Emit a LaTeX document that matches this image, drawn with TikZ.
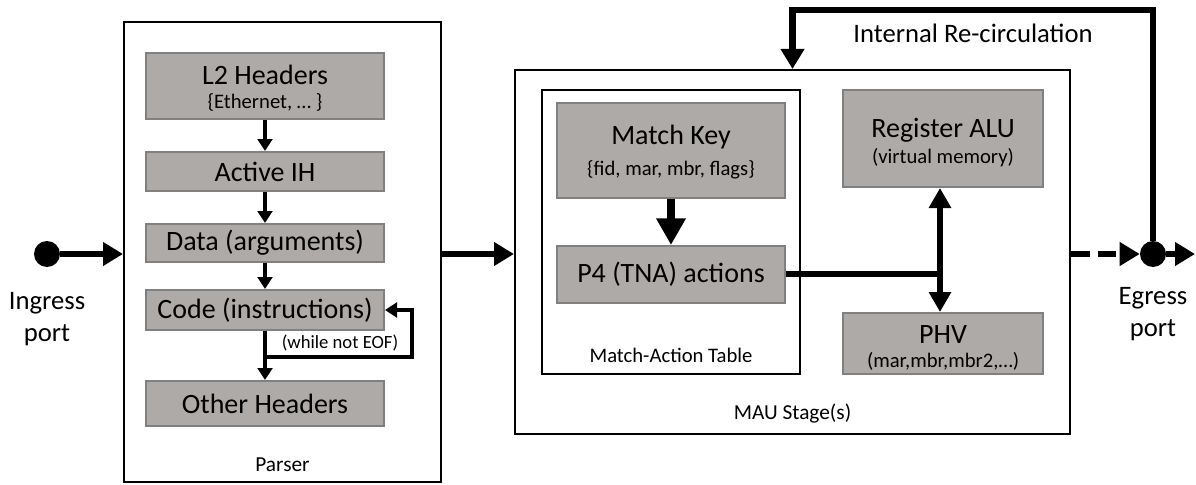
\documentclass[tikz,border=0pt]{standalone}
\usepackage{fontspec}
\setmainfont{Carlito}
\usetikzlibrary{arrows.meta}
\definecolor{blkFill}{RGB}{174,170,167}
\definecolor{blkLine}{RGB}{128,128,128}

\begin{document}
\begin{tikzpicture}[x=0.75pt,y=-0.75pt,
    outerBk/.style={rectangle,draw=black,line width=1.5pt,inner sep=0pt},
    grayBk/.style={rectangle,draw=blkLine,fill=blkFill,line width=1.5pt,inner sep=0pt},
    mainTxt/.style={font=\fontsize{21}{24}\selectfont,align=center,inner sep=0pt},
    portTxt/.style={font=\fontsize{20}{24}\selectfont,align=center,inner sep=0pt},
    subTxt/.style={font=\fontsize{15.5}{18}\selectfont,inner sep=0pt},
    smTxt/.style={font=\fontsize{16}{18}\selectfont,inner sep=0pt},
    thinArr/.style={-{Triangle[length=9pt,width=11pt]},line width=3.2pt},
    bigArr/.style={-{Triangle[length=15pt,width=17pt]},line width=4.8pt},
    bigLine/.style={line width=4.8pt},
    portDot/.style={circle,fill=black,minimum size=19.5pt,inner sep=0pt},
]
\useasboundingbox (0,0) rectangle (1196,485);
% containers
\node[outerBk,minimum width=237.75pt,minimum height=345pt] (parser) at (282.5,252) {};
\node[outerBk,minimum width=416.25pt,minimum height=273pt] (mau) at (792.5,252) {};
\node[outerBk,minimum width=193.5pt,minimum height=213pt] (mat) at (671,232) {};
\node[smTxt] (parserT) at (282.5,465) {Parser};
\node[smTxt] (mauT) at (792.5,414) {MAU Stage(s)};
\node[subTxt] (matT) at (671,355) {Match-Action Table};
% parser blocks
\node[grayBk,minimum width=178.5pt,minimum height=49.5pt] (l2) at (265,86) {};
\node[mainTxt] (l2T) at (265,75) {L2 Headers};
\node[subTxt] (l2S) at (265,102) {\{Ethernet, … \}};
\node[grayBk,minimum width=178.5pt,minimum height=29.25pt] (act) at (265,171.5) {};
\node[mainTxt] (actT) at (act) {Active IH};
\node[grayBk,minimum width=178.5pt,minimum height=28.5pt] (data) at (265,243) {};
\node[mainTxt] (dataT) at (data) {Data (arguments)};
\node[grayBk,minimum width=178.5pt,minimum height=30pt] (code) at (265,310) {};
\node[mainTxt] (codeT) at (code) {Code (instructions)};
\node[grayBk,minimum width=178.5pt,minimum height=33.75pt] (other) at (265,403.5) {};
\node[mainTxt] (otherT) at (other) {Other Headers};
\node[font=\fontsize{14}{16}\selectfont,inner sep=0pt] (loopT) at (340,343) {(while not EOF)};
\draw[thinArr] (l2) -- (act);
\draw[thinArr] (act) -- (data);
\draw[thinArr] (data) -- (code);
\draw[thinArr] (code) -- (other);
\coordinate (loopA) at (265,357);
\coordinate (loopR) at (412,357);
\draw[thinArr] (loopA) -- (loopR) |- (code.east);
% MAU blocks
\node[grayBk,minimum width=171pt,minimum height=71.25pt] (key) at (671,150.5) {};
\node[mainTxt] (keyT) at (671,137) {Match Key};
\node[subTxt] (keyS) at (671,170) {\{fid, mar, mbr, flags\}};
\node[grayBk,minimum width=171pt,minimum height=42.75pt] (p4) at (671,274.5) {};
\node[mainTxt] (p4T) at (p4) {P4 (TNA) actions};
\node[grayBk,minimum width=150pt,minimum height=72.75pt] (alu) at (943,138.5) {};
\node[mainTxt] (aluT) at (943,130) {Register ALU};
\node[subTxt] (aluS) at (943,158) {(virtual memory)};
\node[grayBk,minimum width=150pt,minimum height=45.75pt] (phv) at (943,343.5) {};
\node[mainTxt] (phvT) at (943,335) {PHV};
\node[subTxt] (phvS) at (943,361) {(mar,mbr,mbr2,…)};
\draw[-{Triangle[length=20pt,width=21pt]},line width=6pt] (key) -- (p4);
\coordinate (tj) at (940,274);
\draw[bigLine] (p4.east |- tj) -- (tj);
\draw[{Triangle[length=15pt,width=16pt]}-{Triangle[length=15pt,width=16pt]},line width=5pt] (alu.south -| tj) -- (phv.north -| tj);
% ports
\node[portDot] (inDot) at (47,254) {};
\node[portTxt] (inT) at (47,319) {Ingress\\port};
\node[portDot] (egDot) at (1153,254) {};
\node[portTxt] (egT) at (1153,314) {Egress\\port};
\coordinate (egOut) at (1195,254);
\coordinate (recTop) at (1153,10);
\draw[bigArr] (inDot) -- (inDot -| parser.west);
\draw[bigArr] (parser.east |- inDot) -- (mau.west |- inDot);
\draw[bigArr,dash pattern=on 14pt off 6pt] (mau.east |- egDot) -- (egDot);
\draw[bigArr] (egDot) -- (egOut);
\draw[bigArr] (egDot) -- (recTop) -| (mau.north);
\node[portTxt] (recT) at (973,33) {Internal Re-circulation};
\end{tikzpicture}
\end{document}
